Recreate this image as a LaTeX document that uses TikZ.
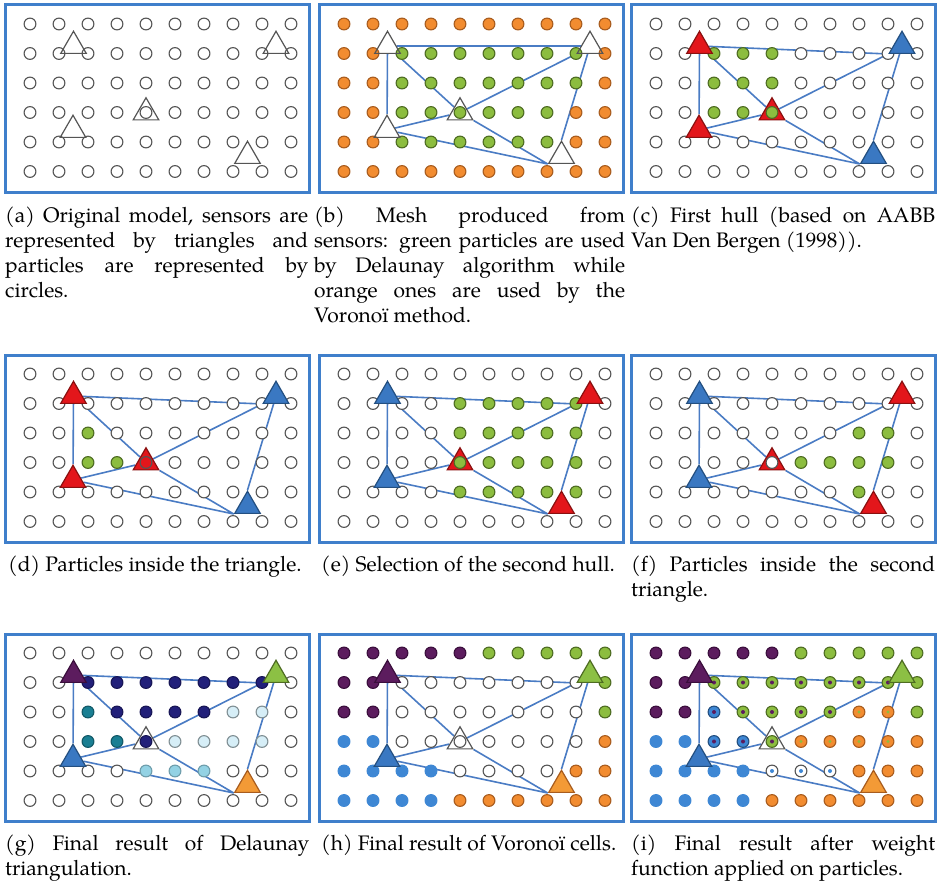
\documentclass[tikz,border=0pt]{standalone}
\usepackage{fontspec}
\setmainfont{TeX Gyre Pagella}
\usetikzlibrary{shapes.geometric}

\pgfdeclarelayer{back}
\pgfdeclarelayer{edges}
\pgfdeclarelayer{under}
\pgfsetlayers{back,edges,under,main}

% palette
\definecolor{frameblue}{HTML}{3F7FCB}
\definecolor{edgeblue}{HTML}{4A7CC4}
\definecolor{ringgray}{HTML}{555555}
\definecolor{partorange}{HTML}{F28C30}
\definecolor{orangeline}{HTML}{A85C1E}
\definecolor{partgreen}{HTML}{8CBD3F}
\definecolor{greenline}{HTML}{4E6C22}
\definecolor{partpurple}{HTML}{5C1C5E}
\definecolor{purpleline}{HTML}{3A0E3C}
\definecolor{partsky}{HTML}{3E87D4}
\definecolor{partnavy}{HTML}{22207A}
\definecolor{partteal}{HTML}{1A7F93}
\definecolor{partlight}{HTML}{93D2E4}
\definecolor{partpale}{HTML}{D6EEF7}
\definecolor{sensred}{HTML}{E3161B}
\definecolor{redline}{HTML}{8A1010}
\definecolor{sensblue}{HTML}{3A78C2}
\definecolor{blueline}{HTML}{234F80}
\definecolor{sensgreen}{HTML}{8CC044}
\definecolor{sensorange}{HTML}{F39A36}

\tikzset{
  pc-base/.style={circle, inner sep=0pt, minimum size=11.8pt, line width=1.1pt},
  pc-w/.style={pc-base, draw=ringgray, fill=white},
  pc-e/.style={pc-base, draw=ringgray},
  pc-o/.style={pc-base, draw=orangeline, fill=partorange},
  pc-g/.style={pc-base, draw=greenline, fill=partgreen},
  pc-p/.style={pc-base, draw=purpleline, fill=partpurple},
  pc-s/.style={pc-base, draw=partsky, fill=partsky},
  pc-n/.style={pc-base, draw=partnavy!70!black, fill=partnavy},
  pc-t/.style={pc-base, draw=partteal!70!black, fill=partteal},
  pc-l/.style={pc-base, draw=partlight!75!black, fill=partlight},
  pc-q/.style={pc-base, draw=partpale!60!black, fill=partpale},
  pc-X/.style={pc-g, path picture={\fill[partpurple] (path picture bounding box.center) circle (2pt);}},
  pc-Y/.style={pc-s, draw=blueline, path picture={\fill[partpurple] (path picture bounding box.center) circle (2pt);}},
  pc-Z/.style={pc-o, path picture={\fill[partgreen] (path picture bounding box.center) circle (1.7pt);}},
  pc-W/.style={pc-w, path picture={\fill[partsky] (path picture bounding box.center) circle (2pt);}},
  pc/.code={\edef\pctmp{\noexpand\pgfkeysalso{pc-#1}}\pctmp},
  sn-base/.style={regular polygon, regular polygon sides=3, minimum size=29.5pt, inner sep=0pt, line width=1.2pt},
  sn-w/.style={sn-base, draw=ringgray},
  sn-r/.style={sn-base, draw=redline, fill=sensred},
  sn-b/.style={sn-base, draw=blueline, fill=sensblue},
  sn-p/.style={sn-base, draw=purpleline, fill=partpurple},
  sn-g/.style={sn-base, draw=greenline, fill=sensgreen},
  sn-o/.style={sn-base, draw=orangeline, fill=sensorange},
  link/.style={draw=edgeblue, line width=1.6pt},
  panelframe/.style={draw=frameblue, line width=3pt, fill=white},
  captext/.style={anchor=north west, inner sep=0pt, text width=#1, align=justify,
    font=\fontsize{21}{25}\selectfont},
  captext/.default=304pt,
}

% one framed panel: name prefix, left, top, contents
\newcommand\panel[4]{%
  \begin{scope}[shift={(#2,#3)}]
    \begin{pgfonlayer}{back}
      \draw[panelframe] (0,0) rectangle (304,187);
    \end{pgfonlayer}
    #4
  \end{scope}}

% 10 x 6 grid of particles, one style letter per particle
\newcommand\particles[2]{%
  \foreach \rw [count=\r from 0] in {#2} {
    \foreach \s [count=\c from 0] in \rw {
      \node[pc=\s] (#1-\c-\r) at ({25+29*\c},{19+29.5*\r}) {};
    }
  }}

% the five sensors
\newcommand\sensors[6]{%
  \begin{pgfonlayer}{under}
    \node[sn-#4] (#1-s3) at (141,107.5) {};
  \end{pgfonlayer}
  \node[sn-#2] (#1-s1) at (68.5,41) {};
  \node[sn-#3] (#1-s2) at (271,41) {};
  \node[sn-#5] (#1-s4) at (68,125) {};
  \node[sn-#6] (#1-s5) at (242.5,151) {};}

% triangulation between the sensors; #2 is where the top edge meets the right sensor
\newcommand\hull[2]{%
  \begin{pgfonlayer}{edges}
    \draw[link] (#1-s1) -- (#1-s2#2)       (#1-s1) -- (#1-s3)
                (#1-s1) -- (#1-s4)         (#1-s4) -- (#1-s3)
                (#1-s3) -- (#1-s2.corner 2) (#1-s4) -- (#1-s5.corner 2)
                (#1-s3) -- (#1-s5.corner 2) (#1-s2) -- (#1-s5.corner 1);
  \end{pgfonlayer}}

\hyphenpenalty=10000

\begin{document}
\begin{tikzpicture}[x=1pt, y=-1pt]
\useasboundingbox (0,0) rectangle (937,883);

% (a)
\panel{a}{5}{5}{
  \particles{a}{{w,w,w,w,w,w,w,w,w,w},{w,w,w,w,w,w,w,w,w,w},{w,w,w,w,w,w,w,w,w,w},
                {w,w,w,w,e,w,w,w,w,w},{w,w,w,w,w,w,w,w,w,w},{w,w,w,w,w,w,w,w,w,w}}
  \sensors{a}{w}{w}{w}{w}{w}
}
% (b)
\panel{b}{319}{5}{
  \particles{b}{{o,o,o,o,o,o,o,o,o,o},{o,o,g,g,g,g,g,g,g,o},{o,o,g,g,g,g,g,g,g,o},
                {o,o,g,g,g,g,g,g,o,o},{o,o,g,g,g,g,g,g,o,o},{o,o,o,o,o,o,o,o,o,o}}
  \sensors{b}{w}{w}{w}{w}{w}
  \hull{b}{}
}
% (c)
\panel{c}{631}{5}{
  \particles{c}{{w,w,w,w,w,w,w,w,w,w},{w,w,g,g,g,w,w,w,w,w},{w,w,g,g,g,w,w,w,w,w},
                {w,w,g,g,g,w,w,w,w,w},{w,w,w,w,w,w,w,w,w,w},{w,w,w,w,w,w,w,w,w,w}}
  \sensors{c}{r}{b}{r}{r}{b}
  \hull{c}{.corner 2}
}
% (d)
\panel{d}{5}{355}{
  \particles{d}{{w,w,w,w,w,w,w,w,w,w},{w,w,w,w,w,w,w,w,w,w},{w,w,g,w,w,w,w,w,w,w},
                {w,w,g,g,e,w,w,w,w,w},{w,w,w,w,w,w,w,w,w,w},{w,w,w,w,w,w,w,w,w,w}}
  \sensors{d}{r}{b}{r}{r}{b}
  \hull{d}{.corner 2}
}
% (e)
\panel{e}{319}{355}{
  \particles{e}{{w,w,w,w,w,w,w,w,w,w},{w,w,w,w,g,g,g,g,g,w},{w,w,w,w,g,g,g,g,g,w},
                {w,w,w,w,g,g,g,g,g,w},{w,w,w,w,g,g,g,g,g,w},{w,w,w,w,w,w,w,w,w,w}}
  \sensors{e}{b}{r}{r}{b}{r}
  \hull{e}{.corner 2}
}
% (f)
\panel{f}{631}{355}{
  \particles{f}{{w,w,w,w,w,w,w,w,w,w},{w,w,w,w,w,w,w,w,w,w},{w,w,w,w,w,w,w,g,g,w},
                {w,w,w,w,w,g,g,g,g,w},{w,w,w,w,w,w,w,g,w,w},{w,w,w,w,w,w,w,w,w,w}}
  \sensors{f}{b}{r}{r}{b}{r}
  \hull{f}{.corner 2}
}
% (g)
\panel{g}{5}{634}{
  \particles{g}{{w,w,w,w,w,w,w,w,w,w},{w,w,n,n,n,n,n,n,n,w},{w,w,t,n,n,n,n,q,q,w},
                {w,w,t,t,n,q,q,q,q,w},{w,w,w,w,l,l,l,w,w,w},{w,w,w,w,w,w,w,w,w,w}}
  \sensors{g}{p}{g}{w}{b}{o}
  \hull{g}{.corner 2}
}
% (h)
\panel{h}{319}{634}{
  \particles{h}{{p,p,p,p,p,g,g,g,g,g},{p,p,w,w,w,w,w,w,w,g},{p,p,w,w,w,w,w,w,w,g},
                {s,s,w,w,w,w,w,w,w,o},{s,s,s,s,w,w,w,w,o,o},{s,s,s,s,o,o,o,o,o,o}}
  \sensors{h}{p}{g}{w}{b}{o}
  \hull{h}{.corner 2}
}
% (i)
\panel{i}{631}{634}{
  \particles{i}{{p,p,p,p,p,g,g,g,g,g},{p,p,X,X,X,X,X,X,X,g},{p,p,Y,X,X,X,X,Z,Z,g},
                {s,s,Y,Y,X,Z,Z,Z,Z,o},{s,s,s,s,W,W,W,o,o,o},{s,s,s,s,o,o,o,o,o,o}}
  \sensors{i}{p}{g}{w}{b}{o}
  \hull{i}{.corner 2}
}

% captions
\node[captext=303pt] (capa) at (5,207) {(a) Original model, sensors are\linebreak
  represented by triangles and\linebreak particles are represented by\linebreak circles.};
\node[captext=311pt] (capb) at (314,207) {(b) Mesh produced from\linebreak
  sensors: green particles are used\linebreak by Delaunay algorithm while\linebreak
  orange ones are used by the\linebreak Voronoï method.};
\node[captext=304pt] (capc) at (631,207) {(c) First hull (based on AABB\linebreak
  Van Den Bergen (1998)).};
\node[captext] (capd) at (8,556) {(d) Particles inside the triangle.};
\node[captext] (cape) at (321,556) {(e) Selection of the second hull.};
\node[captext] (capf) at (631,556) {(f) Particles inside the second\linebreak triangle.};
\node[captext] (capg) at (5,835) {(g) Final result of Delaunay\linebreak triangulation.};
\node[captext] (caph) at (321,835) {(h) Final result of Voronoï cells.};
\node[captext] (capi) at (631,835) {(i) Final result after weight\linebreak
  function applied on particles.};
\end{tikzpicture}
\end{document}
